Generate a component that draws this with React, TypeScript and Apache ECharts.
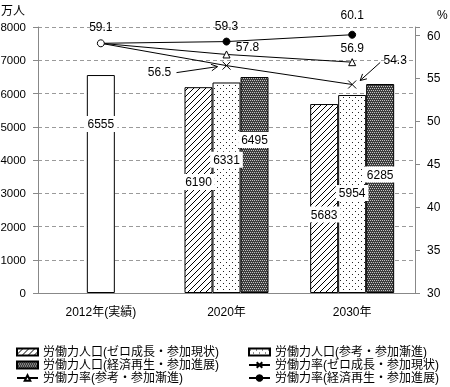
import React, { useEffect, useRef } from 'react';
import * as echarts from 'echarts';

// ---- data ----
const CATEGORIES = ['2012年(実績)', '2020年', '2030年'];
const POP_ZERO: (number | null)[] = [null, 6190, 5683];
const POP_REF: (number | null)[] = [6555, 6331, 5954];
const POP_REVIVAL: (number | null)[] = [null, 6495, 6285];
const RATE_ZERO = [59.1, 56.5, 54.3];
const RATE_REF = [59.1, 57.8, 56.9];
const RATE_REVIVAL = [59.1, 59.3, 60.1];

const NAME_POP_ZERO = '労働力人口(ゼロ成長・参加現状)';
const NAME_POP_REF = '労働力人口(参考・参加漸進)';
const NAME_POP_REVIVAL = '労働力人口(経済再生・参加進展)';
const NAME_RATE_ZERO = '労働力率(ゼロ成長・参加現状)';
const NAME_RATE_REF = '労働力率(参考・参加漸進)';
const NAME_RATE_REVIVAL = '労働力率(経済再生・参加進展)';

// ---- label layout (pixel offsets of the annotations) ----
const BAR_LABEL_DY_ZERO = [0, -8, 16];
const BAR_LABEL_DY_REF = [-60, -28, -1];
const BAR_LABEL_DY_REVIVAL = [0, -45, -14];
const LINE_LABEL_OFF_REVIVAL: ([number, number] | null)[] = [[0, -16], [0, -16], [0, -20]];
const LINE_LABEL_OFF_REF: ([number, number] | null)[] = [null, [21, -7], [0, -14]];
const LINE_LABEL_OFF_ZERO: ([number, number] | null)[] = [null, [-67, 6], [43, -24]];
const ARROWS = [
  { idx: 1, from: [-50, 7], to: [-9, 1] },
  { idx: 2, from: [28, -22], to: [8, -4] },
];

const FONT = "'Liberation Sans', 'Noto Sans CJK JP', sans-serif";

function makePattern(w: number, h: number, draw: (ctx: CanvasRenderingContext2D) => void) {
  const c = document.createElement('canvas');
  c.width = w;
  c.height = h;
  const ctx = c.getContext('2d') as CanvasRenderingContext2D;
  draw(ctx);
  return { image: c, repeat: 'repeat', imageWidth: w, imageHeight: h } as any;
}

export default function App() {
  const ref = useRef<HTMLDivElement>(null);
  useEffect(() => {
    if (!ref.current) return;
    const chart = echarts.init(ref.current, null, { renderer: 'svg' });

    const hatch = makePattern(6, 6, (ctx) => {
      ctx.fillStyle = '#fff';
      ctx.fillRect(0, 0, 6, 6);
      ctx.strokeStyle = '#000';
      ctx.lineWidth = 1;
      ctx.beginPath();
      ctx.moveTo(-1, 7);
      ctx.lineTo(7, -1);
      ctx.moveTo(-1, 1);
      ctx.lineTo(1, -1);
      ctx.moveTo(5, 7);
      ctx.lineTo(7, 5);
      ctx.stroke();
    });
    const dots = makePattern(6, 6, (ctx) => {
      ctx.fillStyle = '#fff';
      ctx.fillRect(0, 0, 6, 6);
      ctx.fillStyle = '#222';
      ctx.fillRect(1, 1, 1, 1);
      ctx.fillRect(4, 4, 1, 1);
    });
    const dark = makePattern(4, 4, (ctx) => {
      ctx.fillStyle = '#3c3c3c';
      ctx.fillRect(0, 0, 4, 4);
      ctx.fillStyle = '#c4c4c4';
      ctx.fillRect(0, 0, 1, 1);
      ctx.fillRect(2, 0, 1, 1);
      ctx.fillRect(1, 2, 1, 1);
      ctx.fillRect(3, 2, 1, 1);
    });

    const barLabel = {
      show: true,
      position: 'inside',
      color: '#000',
      fontSize: 12,
      fontFamily: FONT,
      backgroundColor: '#fff',
      padding: [2, 3],
    };

    const barData = (vals: (number | null)[], dys: number[], firstWhite = false) =>
      vals.map((v, i) => {
        if (v == null) return null;
        const item: any = { value: v, label: { offset: [0, dys[i]] } };
        if (firstWhite && i === 0) item.itemStyle = { color: '#fff' };
        return item;
      });

    const lineData = (vals: number[], offs: ([number, number] | null)[], first: any) =>
      vals.map((v, i) => {
        const item: any = { value: v };
        const o = offs[i];
        if (o) item.label = { show: true, offset: o };
        else item.label = { show: false };
        if (i === 0 && first) Object.assign(item, first);
        return item;
      });

    const lineLabel = {
      show: true,
      position: 'inside',
      color: '#000',
      fontSize: 12,
      fontFamily: FONT,
    };

    const legendBase = {
      top: 346,
      orient: 'vertical',
      padding: 0,
      itemGap: 1,
      itemWidth: 21,
      itemHeight: 7,
      textStyle: { fontSize: 12, color: '#000', fontFamily: FONT },
    };

    const option: any = {
      animation: false,
      textStyle: { fontFamily: FONT },
      grid: { left: 38, right: 35, top: 27, bottom: 94, containLabel: false, outerBoundsMode: 'none' },
      legend: [
        {
          ...legendBase,
          left: 16,
          data: [
            { name: NAME_POP_ZERO, icon: 'rect' },
            { name: NAME_POP_REVIVAL, icon: 'rect' },
            { name: NAME_RATE_REF },
          ],
        },
        {
          ...legendBase,
          left: 248,
          data: [
            { name: NAME_POP_REF, icon: 'rect' },
            { name: NAME_RATE_ZERO },
            { name: NAME_RATE_REVIVAL },
          ],
        },
      ],
      xAxis: {
        type: 'category',
        data: CATEGORIES,
        axisLine: { lineStyle: { color: '#888' } },
        axisTick: { length: 5, lineStyle: { color: '#888' } },
        axisLabel: { margin: 13, fontSize: 12, color: '#000', fontFamily: FONT },
      },
      yAxis: [
        {
          type: 'value',
          min: 0,
          max: 8000,
          interval: 1000,
          name: '万人',
          nameLocation: 'end',
          nameGap: 10,
          nameTextStyle: { align: 'right', padding: [0, 13, 0, 0], fontSize: 12, color: '#000', fontFamily: FONT },
          axisLine: { show: true, lineStyle: { color: '#888' } },
          axisTick: { show: true, length: 5, lineStyle: { color: '#888' } },
          axisLabel: {
            margin: 12,
            fontSize: 11.5,
            color: '#000',
            fontFamily: FONT,
            formatter: (v: number) => String(v),
          },
          splitLine: { lineStyle: { color: '#9a9a9a', type: [4, 3] } },
        },
        {
          type: 'value',
          position: 'right',
          min: 30,
          max: 61,
          interval: 5,
          name: '%',
          nameLocation: 'end',
          nameGap: 6,
          nameTextStyle: { align: 'left', padding: [0, 0, 0, 22], fontSize: 12, color: '#000', fontFamily: FONT },
          axisLine: { show: true, lineStyle: { color: '#888' } },
          axisTick: { show: true, length: 5, lineStyle: { color: '#888' } },
          axisLabel: {
            margin: 12,
            fontSize: 12,
            color: '#000',
            fontFamily: FONT,
            formatter: (v: number) => (v % 5 === 0 ? String(v) : ''),
          },
          splitLine: { show: false },
        },
      ],
      series: [
        {
          name: NAME_POP_ZERO,
          type: 'bar',
          barWidth: 28,
          barGap: '0%',
          itemStyle: { color: hatch, borderColor: '#000', borderWidth: 1 },
          label: barLabel,
          data: barData(POP_ZERO, BAR_LABEL_DY_ZERO),
        },
        {
          name: NAME_POP_REF,
          type: 'bar',
          barWidth: 28,
          barGap: '0%',
          itemStyle: { color: dots, borderColor: '#000', borderWidth: 1 },
          label: barLabel,
          data: barData(POP_REF, BAR_LABEL_DY_REF, true),
        },
        {
          name: NAME_POP_REVIVAL,
          type: 'bar',
          barWidth: 28,
          barGap: '0%',
          itemStyle: { color: dark, borderColor: '#000', borderWidth: 1 },
          label: barLabel,
          data: barData(POP_REVIVAL, BAR_LABEL_DY_REVIVAL),
        },
        {
          name: NAME_RATE_ZERO,
          type: 'line',
          yAxisIndex: 1,
          z: 5,
          symbol: 'path://M0 0L10 10M10 0L0 10',
          symbolSize: 8,
          color: '#000',
          lineStyle: { color: '#000', width: 1 },
          itemStyle: { color: '#000', borderColor: '#000', borderWidth: 1 },
          label: lineLabel,
          data: lineData(RATE_ZERO, LINE_LABEL_OFF_ZERO, { symbol: 'none' }),
        },
        {
          name: NAME_RATE_REF,
          type: 'line',
          yAxisIndex: 1,
          z: 5,
          symbol: 'triangle',
          symbolSize: 7,
          color: '#000',
          lineStyle: { color: '#000', width: 1 },
          itemStyle: { color: '#fff', borderColor: '#000', borderWidth: 1 },
          label: lineLabel,
          data: lineData(RATE_REF, LINE_LABEL_OFF_REF, { symbol: 'none' }),
        },
        {
          name: NAME_RATE_REVIVAL,
          type: 'line',
          yAxisIndex: 1,
          z: 6,
          symbol: 'circle',
          symbolSize: 7,
          color: '#000',
          lineStyle: { color: '#000', width: 1 },
          itemStyle: { color: '#000', borderColor: '#000', borderWidth: 1 },
          label: lineLabel,
          data: lineData(RATE_REVIVAL, LINE_LABEL_OFF_REVIVAL, {
            itemStyle: { color: '#fff', borderColor: '#000', borderWidth: 1 },
          }),
        },
      ],
    };
    chart.setOption(option);

    // arrows from the moved labels to their points
    const graphics: any[] = [];
    ARROWS.forEach((a, k) => {
      const p = chart.convertToPixel({ xAxisIndex: 0, yAxisIndex: 1 }, [CATEGORIES[a.idx], RATE_ZERO[a.idx]]) as number[];
      const x1 = p[0] + a.from[0];
      const y1 = p[1] + a.from[1];
      const x2 = p[0] + a.to[0];
      const y2 = p[1] + a.to[1];
      const dx = x1 - x2;
      const dy = y1 - y2;
      const len = Math.hypot(dx, dy);
      const ux = dx / len;
      const uy = dy / len;
      const ang = (28 * Math.PI) / 180;
      const h = 7;
      const r = (s: number) => [
        x2 + h * (ux * Math.cos(s * ang) - uy * Math.sin(s * ang)),
        y2 + h * (ux * Math.sin(s * ang) + uy * Math.cos(s * ang)),
      ];
      graphics.push({
        type: 'line',
        id: 'arrow' + k,
        z: 10,
        shape: { x1, y1, x2, y2 },
        style: { stroke: '#000', lineWidth: 1 },
      });
      graphics.push({
        type: 'polyline',
        id: 'head' + k,
        z: 10,
        shape: { points: [r(1), [x2, y2], r(-1)] },
        style: { stroke: '#000', lineWidth: 1, fill: null },
      });
    });
    chart.setOption({ graphic: graphics });

    return () => chart.dispose();
  }, []);
  return <div ref={ref} style={{ position: 'fixed', left: 0, top: 0, width: 450, height: 387 }} />;
}
